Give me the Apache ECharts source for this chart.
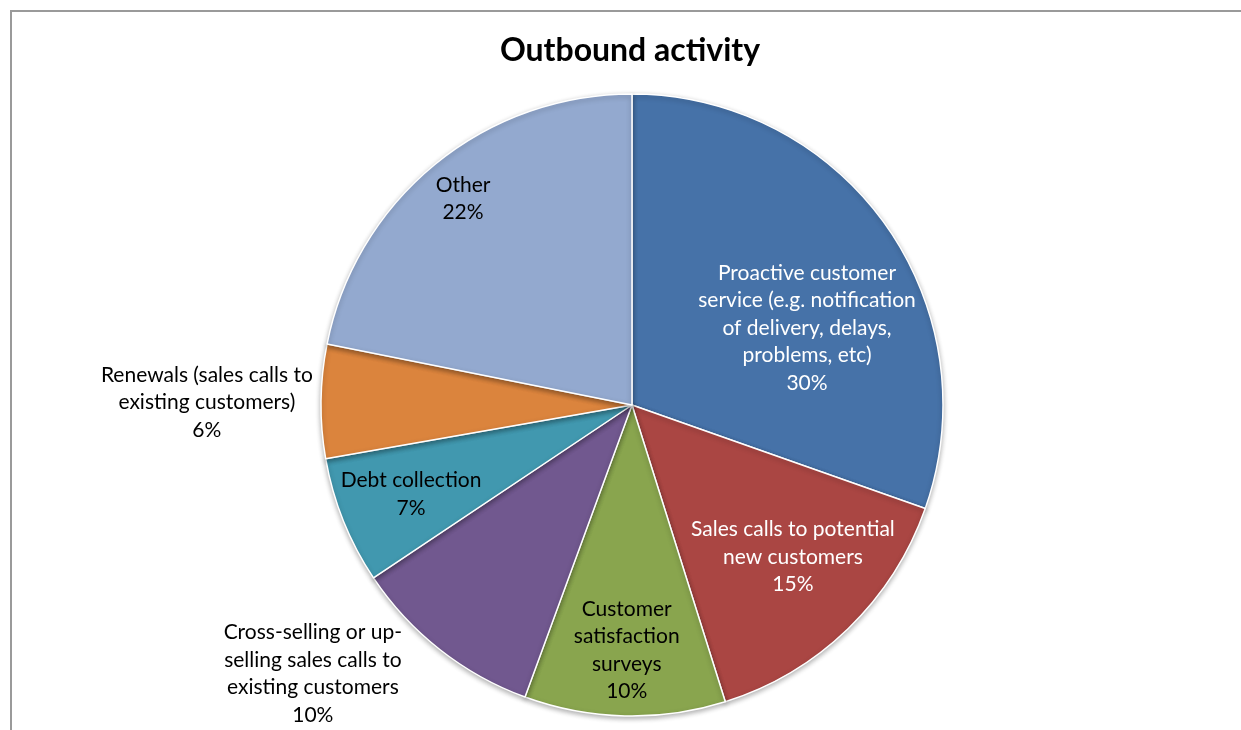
<!DOCTYPE html>
<html>
<head>
<meta charset="utf-8">
<script src="https://cdn.jsdelivr.net/npm/echarts@6/dist/echarts.min.js"></script>
<style>
  html, body { margin: 0; padding: 0; background: #fff; }
  #main { width: 1241px; height: 730px; }
</style>
</head>
<body>
<div id="main"></div>
<script>
// slices, clockwise from 12 o'clock
var categories = [
  'Proactive customer\nservice (e.g. notification\nof delivery, delays,\nproblems, etc)',
  'Sales calls to potential\nnew customers',
  'Customer\nsatisfaction\nsurveys',
  'Cross-selling or up-\nselling sales calls to\nexisting customers',
  'Debt collection',
  'Renewals (sales calls to\nexisting customers)',
  'Other'
];
// (labels show them rounded)
var values = [30.4, 14.75, 10.44, 10.03, 6.61, 5.91, 21.86];

var colors = ['#4672A8', '#AA4643', '#89A54E', '#71588F', '#4198AF', '#DB843D', '#93A9CF'];
var labelColors = ['#fff', '#fff', '#000', '#000', '#000', '#000', '#000'];
// [fraction of radius, angle tweak in degrees] - label placement like excel's
var labelPlace = [[0.615, 11.5], [0.712, -2.6], [0.788, -0.1], [1.342, 11.7], [0.766, -0.1], [1.367, -0.3], [0.857, 0]];

var CX = 632, CY = 405, R = 311;
var FONT = 'Lato, "Open Sans", sans-serif';

var total = values.reduce(function (a, b) { return a + b; }, 0);
var midAngles = [], acc = 0;
for (var i = 0; i < values.length; i++) {
  midAngles.push((acc + values[i] / 2) / total * 360);
  acc += values[i];
}

var pieData = categories.map(function (name, i) {
  return {
    name: name,
    value: values[i],
    itemStyle: { color: colors[i] },
    label: { color: labelColors[i] }
  };
});

var chart = echarts.init(document.getElementById('main'));
chart.setOption({
  backgroundColor: '#fff',
  animation: false,
  title: {
    text: 'Outbound activity',
    left: 625,
    top: 30,
    textAlign: 'center',
    textStyle: { fontFamily: FONT, fontSize: 32, fontWeight: 'bold', color: '#000' }
  },
  graphic: [{
    type: 'rect',
    shape: { x: 11, y: 11, width: 1400, height: 900 },
    style: { fill: 'none', stroke: '#9a9a9a', lineWidth: 2 },
    silent: true
  }],
  series: [{
    type: 'pie',
    center: [CX, CY],
    radius: R,
    startAngle: 90,
    clockwise: true,
    avoidLabelOverlap: false,
    data: pieData,
    itemStyle: {
      borderColor: '#fff',
      borderWidth: 1.5,
      shadowBlur: 5,
      shadowColor: 'rgba(0,0,0,0.3)',
      shadowOffsetY: 2
    },
    label: {
      show: true,
      position: 'inside',
      formatter: function (p) {
        return p.name + '\n' + Math.round(p.percent) + '%';
      },
      fontFamily: FONT,
      fontSize: 21,
      lineHeight: 27.5,
      align: 'center'
    },
    labelLine: { show: false },
    labelLayout: function (params) {
      var i = params.dataIndex;
      var a = (midAngles[i] + labelPlace[i][1]) * Math.PI / 180;
      var r = labelPlace[i][0] * R;
      return {
        x: CX + r * Math.sin(a),
        y: CY - r * Math.cos(a),
        align: 'center',
        verticalAlign: 'middle'
      };
    },
    emphasis: { disabled: true }
  }]
});
</script>
</body>
</html>
